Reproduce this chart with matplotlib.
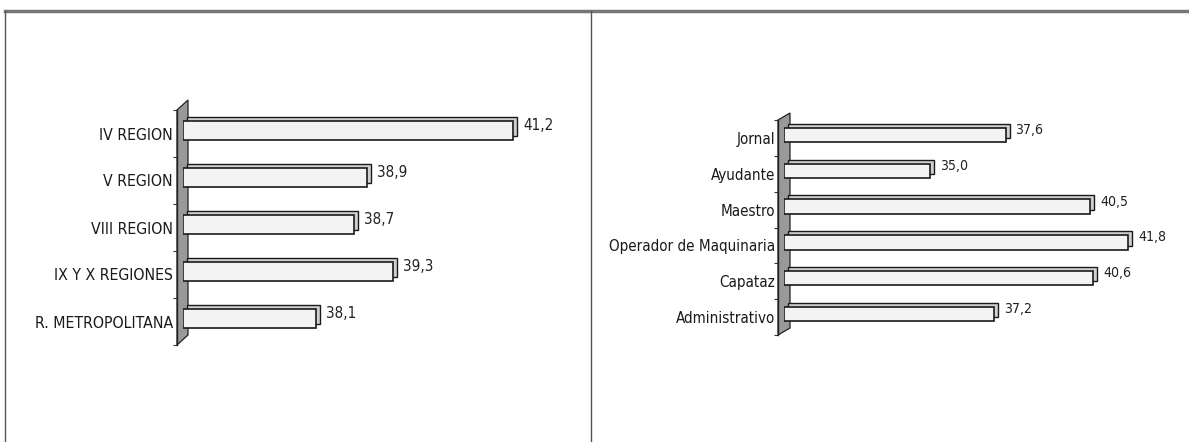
import numpy as np
import matplotlib
matplotlib.use("Agg")
import matplotlib.pyplot as plt
import matplotlib.transforms as mtransforms
from matplotlib import font_manager
from matplotlib.patches import Polygon
from matplotlib.lines import Line2D

# datos: horas promedio semanales
regiones = ["IV REGION", "V REGION", "VIII REGION", "IX Y X REGIONES", "R. METROPOLITANA"]
horas_region = [41.2, 38.9, 38.7, 39.3, 38.1]

cargos = ["Jornal", "Ayudante", "Maestro", "Operador de Maquinaria", "Capataz", "Administrativo"]
horas_cargo = [37.6, 35.0, 40.5, 41.8, 40.6, 37.2]

plt.rcParams['font.family'] = ['Liberation Sans', 'DejaVu Sans']

DPI = 100
W, H = 1189, 442
fig = plt.figure(figsize=(W / DPI, H / DPI), dpi=DPI)
fig.patch.set_facecolor('white')
renderer = fig.canvas.get_renderer()


def pick_font():
    # the original uses a narrow sans; take a condensed face if one is installed
    order = ['Liberation Sans Narrow', 'Arial Narrow', 'DejaVu Sans', 'Noto Sans',
             'Roboto Condensed', 'Roboto', 'Open Sans Condensed', 'Open Sans']
    found = []
    for f in font_manager.fontManager.ttflist:
        w = f.weight if isinstance(f.weight, int) else font_manager.weight_dict.get(f.weight, 400)
        narrow = f.stretch in ('condensed', 'semi-condensed') or 'Narrow' in f.name or 'Condensed' in f.name
        if narrow and f.style == 'normal' and w == 400 and f.fname.lower().endswith(('.ttf', '.otf')):
            found.append(f)
    for name in order:
        for f in found:
            if f.name == name:
                return font_manager.FontProperties(fname=f.fname)
    if found:
        return font_manager.FontProperties(fname=found[0].fname)
    return font_manager.FontProperties(family=['Liberation Sans', 'DejaVu Sans'])


FONT = pick_font()


def sized(text, target_px):
    # font size that makes `text` about target_px wide
    p = FONT.copy()
    p.set_size(10)
    w, _, _ = renderer.get_text_width_height_descent(text, p, ismath=False)
    p.set_size(10 * target_px / w)
    return p


def px_axes(left, top, width, height):
    return fig.add_axes([left / W, 1 - (top + height) / H, width / W, height / H])


def draw_panel(ax, labels, values, xmin, xmax, ax_w, ax_h, wall_out, wall_in, slant,
               lab_prop, val_prop, lab_pad):
    n = len(values)
    y = np.arange(n)
    widths = [v - xmin for v in values]

    lift = mtransforms.ScaledTranslation(0, 3 / DPI, fig.dpi_scale_trans)
    back = mtransforms.ScaledTranslation(4 / DPI, 7 / DPI, fig.dpi_scale_trans)
    # back face (3d depth), then front face
    ax.barh(y, widths, left=xmin, height=0.40, color='#d0d0d0', edgecolor='#1a1a1a',
            linewidth=1.0, transform=ax.transData + back, zorder=2)
    ax.barh(y, widths, left=xmin, height=0.40, color='#f3f3f3', edgecolor='#1a1a1a',
            linewidth=1.2, transform=ax.transData + lift, zorder=3)

    for yi, v in zip(y, values):
        txt = f"{v:.1f}".replace('.', ',')
        ax.annotate(txt, (v, yi), xytext=(10, 8), textcoords='offset pixels',
                    ha='left', va='center', fontproperties=val_prop, color='#222222')

    ax.set_xlim(xmin, xmax)
    ax.set_ylim(n - 0.5, -0.5)

    # gray wall on the left
    wo = wall_out / ax_w
    wi = wall_in / ax_w
    sl = slant / ax_h
    wall = Polygon([(-wo, 0), (-wo, 1), (wi, 1 + sl), (wi, sl)], closed=True,
                   transform=ax.transAxes, clip_on=False, facecolor='#999999',
                   edgecolor='#222222', linewidth=0.9, zorder=1)
    ax.add_patch(wall)

    for s in ['top', 'right', 'bottom']:
        ax.spines[s].set_visible(False)
    ax.spines['left'].set_position(('outward', wall_out * 72 / DPI))
    ax.spines['left'].set_color('#222222')
    ax.spines['left'].set_linewidth(1.0)

    ax.set_xticks([])
    ax.set_yticks(y)
    ax.set_yticklabels(labels, fontproperties=lab_prop, color='#1a1a1a')
    ax.set_yticks(np.arange(n + 1) - 0.5, minor=True)
    ax.tick_params(axis='y', which='major', length=0, pad=lab_pad)
    ax.tick_params(axis='y', which='minor', length=3, width=0.8, color='#333333')
    ax.set_facecolor('none')


# panel izquierdo: por region
ax1 = px_axes(183, 110, 381, 235)
draw_panel(ax1, regiones, horas_region, 36, 42, 381, 235, 6, 5, 10,
           sized("R. METROPOLITANA", 139), sized("41,2", 30), 3)

# panel derecho: por cargo
ax2 = px_axes(784, 120, 379, 215)
draw_panel(ax2, cargos, horas_cargo, 30, 43, 379, 215, 6, 6, 7,
           sized("Operador de Maquinaria", 167), sized("37,6", 28), 2)

# marco de los paneles
fig.add_artist(Line2D([5 / W, 1], [1 - 11 / H, 1 - 11 / H], color='#777777', linewidth=2.5))
fig.add_artist(Line2D([5 / W, 5 / W], [0, 1 - 11 / H], color='#555555', linewidth=1))
fig.add_artist(Line2D([591 / W, 591 / W], [0, 1 - 11 / H], color='#555555', linewidth=1))

fig.savefig("out.png", dpi=DPI)
